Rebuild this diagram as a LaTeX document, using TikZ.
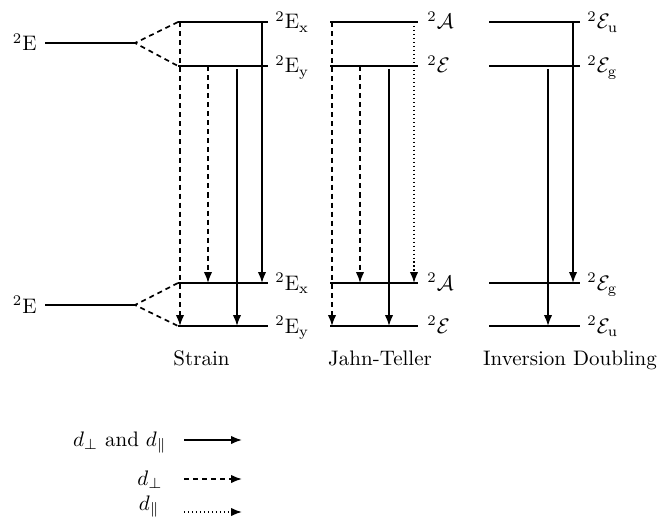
\documentclass[tikz,border=0pt]{standalone}
\usetikzlibrary{arrows.meta}
\begin{document}
\begin{tikzpicture}[x=0.476pt,y=-0.476pt,
  level/.style={line width=0.8pt},
  split/.style={line width=0.8pt,dash pattern=on 2.4pt off 1.9pt},
  trans/.style={line width=0.8pt,-{Latex[length=5.2pt,width=4pt]}},
  dsh/.style={dash pattern=on 2.4pt off 1.9pt},
  dtt/.style={dash pattern=on 0.6pt off 1.3pt},
  lab/.style={anchor=base west,inner sep=0pt},
  labl/.style={anchor=base east,inner sep=0pt},
  captext/.style={anchor=base,inner sep=0pt}]
\useasboundingbox (0,0) rectangle (660,522);
% left degenerate levels
\coordinate (LT0) at (45,43); \coordinate (LT) at (135,43);
\coordinate (LB0) at (45,305); \coordinate (LB) at (135,305);
\draw[level] (LT0) -- (LT);
\draw[level] (LB0) -- (LB);
\node[labl] (lt) at (37,51) {$^{2}\mathrm{E}$};
\node[labl] (lb) at (37,313) {$^{2}\mathrm{E}$};
% strain levels
\coordinate (S1a) at (178,22);  \coordinate (S1b) at (268,22);
\coordinate (S2a) at (178,66);  \coordinate (S2b) at (268,66);
\coordinate (S3a) at (178,283); \coordinate (S3b) at (268,283);
\coordinate (S4a) at (178,326); \coordinate (S4b) at (268,326);
\foreach \a/\b in {S1a/S1b,S2a/S2b,S3a/S3b,S4a/S4b} \draw[level] (\a) -- (\b);
\draw[split] (S1a) -- (LT) -- (S2a);
\draw[split] (S3a) -- (LB) -- (S4a);
\node[lab] at (275,29) {$^{2}\mathrm{E}_{\mathrm{x}}$};
\node[lab] at (275,73) {$^{2}\mathrm{E}_{\mathrm{y}}$};
\node[lab] at (275,290) {$^{2}\mathrm{E}_{\mathrm{x}}$};
\node[lab] at (275,333) {$^{2}\mathrm{E}_{\mathrm{y}}$};
\draw[trans,dsh] (180,22) -- (180,326);
\draw[trans,dsh] (208,66) -- (208,283);
\draw[trans] (237,69) -- (237,326);
\draw[trans] (262,22) -- (262,283);
% Jahn-Teller levels
\foreach \y in {22,66,283,326} \draw[level] (330,\y) -- (418,\y);
\node[lab] at (427,29) {$^{2}\mathcal{A}$};
\node[lab] at (427,73) {$^{2}\mathcal{E}$};
\node[lab] at (427,290) {$^{2}\mathcal{A}$};
\node[lab] at (427,333) {$^{2}\mathcal{E}$};
\draw[trans,dsh] (332,22) -- (332,326);
\draw[trans,dsh] (360,66) -- (360,283);
\draw[trans] (389,69) -- (389,326);
\draw[trans,dtt] (414,22) -- (414,283);
% Inversion doubling levels
\foreach \y in {22,66,283,326} \draw[level] (489,\y) -- (580,\y);
\node[lab] at (587,29) {$^{2}\mathcal{E}_{\mathrm{u}}$};
\node[lab] at (587,73) {$^{2}\mathcal{E}_{\mathrm{g}}$};
\node[lab] at (587,290) {$^{2}\mathcal{E}_{\mathrm{g}}$};
\node[lab] at (587,333) {$^{2}\mathcal{E}_{\mathrm{u}}$};
\draw[trans] (548,69) -- (548,326);
\draw[trans] (573,22) -- (573,283);
% captions
\node[captext] (c1) at (201.5,365) {Strain};
\node[captext] (c2) at (380,365) {Jahn-Teller};
\node[captext] (c3) at (570,365) {Inversion Doubling};
% legend
\node[labl] (l1) at (167,446) {$d_\perp$ and $d_\parallel$};
\node[labl] (l2) at (163,485) {$d_\perp$};
\node[labl] (l3) at (160,510) {$d_\parallel$};
\draw[trans] (184,440) -- (242,440);
\draw[trans,dsh] (184,479) -- (242,479);
\draw[trans,dtt] (184,512) -- (242,512);
\end{tikzpicture}
\end{document}
